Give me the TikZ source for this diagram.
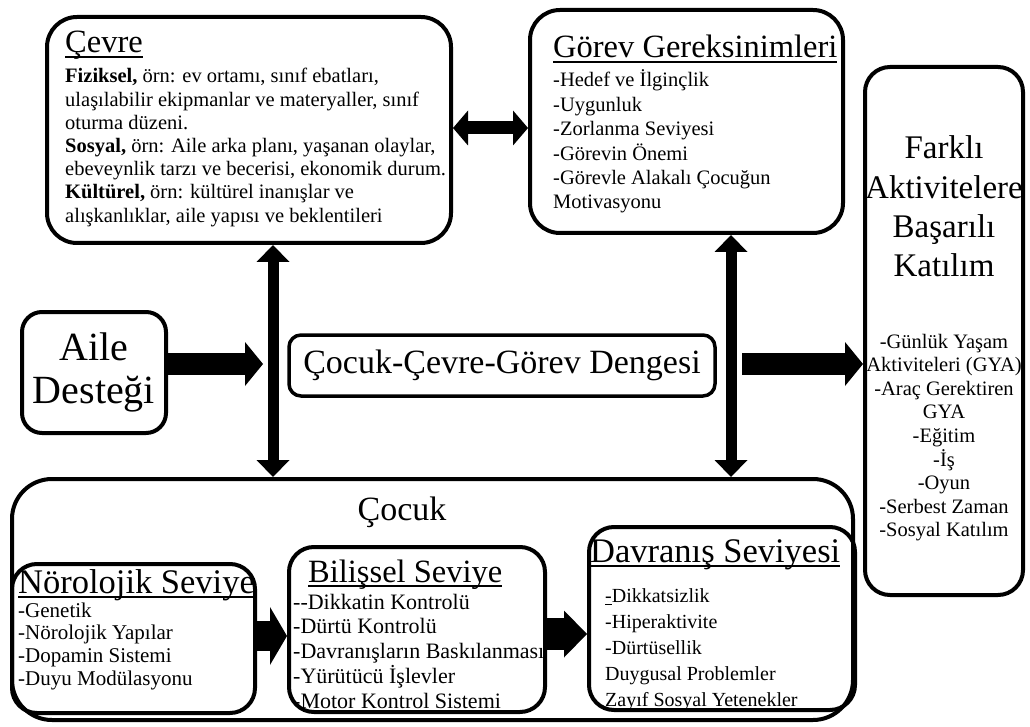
\documentclass[tikz,border=0pt]{standalone}
\usepackage{fontspec}
\setmainfont{Liberation Serif}
\usetikzlibrary{arrows.meta}
\newcommand\myul[1]{\leavevmode\setbox0\hbox{#1}\rlap{\rule[-0.15em]{\wd0}{0.055em}}\box0}
\newcommand\tblock[4]{\parbox[t]{#1}{\fontsize{#2}{#3}\selectfont\raggedright #4}}
\newcommand\cblock[4]{\parbox[t]{#1}{\fontsize{#2}{#3}\selectfont\centering #4}}
\begin{document}
\begin{tikzpicture}[x=1pt,y=-1pt,
  bx/.style={draw, line width=4pt, rounded corners=#1, inner sep=0pt},
  bx/.default=25pt,
  txt/.style={anchor=base west, inner sep=0pt},
  ctxt/.style={anchor=base, inner sep=0pt},
  harr/.style={line width=13pt, {Triangle[length=15pt,width=35pt,line width=0pt]}-{Triangle[length=15pt,width=35pt,line width=0pt]}},
  varr/.style={line width=11pt, {Triangle[length=17pt,width=33pt,line width=0pt]}-{Triangle[length=17pt,width=33pt,line width=0pt]}},
  farr/.style={line width=22pt, -{Triangle[length=18pt,width=44pt,line width=0pt]}},
  barrA/.style={line width=30pt, -{Triangle[length=17pt,width=58pt,line width=0pt]}},
  barrB/.style={line width=32pt, -{Triangle[length=23pt,width=47pt,line width=0pt]}}
]
\useasboundingbox (0,0) rectangle (1030,727);

% boxes
\node[bx=30pt, minimum width=404pt, minimum height=226pt] (cevre) at (249,130) {};
\node[bx=30pt, minimum width=313pt, minimum height=223pt] (gorev) at (686.5,121.5) {};
\node[bx=25pt, minimum width=158pt, minimum height=528pt] (farkli) at (944,331) {};
\node[bx=20pt, minimum width=144pt, minimum height=121pt, align=center,
      font=\fontsize{40}{43}\selectfont] (aile) at (94,372.5) {Aile\\Desteği};
\node[bx=12pt, line width=3.5pt, minimum width=426pt, minimum height=61pt,
      font=\fontsize{34}{38}\selectfont] (denge) at (502,365.5) {Çocuk-Çevre-Görev Dengesi};
\node[bx=40pt, minimum width=841pt, minimum height=241pt] (cocuk) at (432.5,599.5) {};
\node[bx=25pt, minimum width=243pt, minimum height=149pt] (noro) at (133.5,638.5) {};
\node[bx=25pt, minimum width=256pt, minimum height=165pt] (bilis) at (417,629.5) {};
\node[bx=25pt, minimum width=266pt, minimum height=183pt] (davr) at (722,618.5) {};

% texts
\node[txt] (cevret) at (65,53) {\fontsize{32.5}{36}\selectfont\myul{Çevre}};
\node[txt] (cevreb) at (65,83) {\tblock{390pt}{20.5}{23.2}{%
\textbf{Fiziksel,} örn: ev ortamı, sınıf ebatları,\\
ulaşılabilir ekipmanlar ve materyaller, sınıf\\
oturma düzeni.\\
\textbf{Sosyal,} örn: Aile arka planı, yaşanan olaylar,\\
ebeveynlik tarzı ve becerisi, ekonomik durum.\\
\textbf{Kültürel,} örn: kültürel inanışlar ve\\
alışkanlıklar, aile yapısı ve beklentileri}};

\node[txt] (gorevt) at (553,58) {\fontsize{32.5}{36}\selectfont\myul{Görev Gereksinimleri}};
\node[txt] (gorevb) at (553,87) {\tblock{290pt}{20.5}{24.4}{%
-Hedef ve İlginçlik\\
-Uygunluk\\
-Zorlanma Seviyesi\\
-Görevin Önemi\\
-Görevle Alakalı Çocuğun\\
Motivasyonu}};

\node[ctxt] (farklit) at (944,159) {\cblock{160pt}{33}{39.3}{Farklı\\Aktivitelere\\Başarılı\\Katılım}};
\node[ctxt] (farklib) at (944,348) {\cblock{164pt}{20.5}{23.6}{%
-Günlük Yaşam\\
Aktiviteleri (GYA)\\
-Araç Gerektiren\\
GYA\\
-Eğitim\\
-İş\\
-Oyun\\
-Serbest Zaman\\
-Sosyal Katılım}};

\node[ctxt] (cocukt) at (402,520) {\fontsize{34}{38}\selectfont Çocuk};

\node[txt] (norot) at (18,593) {\fontsize{34.5}{38}\selectfont\myul{Nörolojik Seviye}};
\node[txt] (norob) at (18,617) {\tblock{235pt}{21}{22.7}{%
-Genetik\\
-Nörolojik Yapılar\\
-Dopamin Sistemi\\
-Duyu Modülasyonu}};

\node[txt] (bilist) at (308,582) {\fontsize{32.5}{36}\selectfont\myul{Bilişsel Seviye}};
\node[txt] (bilisb) at (293,609) {\tblock{260pt}{22}{24.75}{%
{-}{-}Dikkatin Kontrolü\\
-Dürtü Kontrolü\\
-Davranışların Baskılanması\\
-Yürütücü İşlevler\\
-Motor Kontrol Sistemi}};

\node[txt] (davrt) at (590,562) {\fontsize{34.5}{38}\selectfont\myul{Davranış Seviyesi}};
\node[txt] (davrb) at (605,602) {\tblock{250pt}{20}{26}{%
\myul{-}Dikkatsizlik\\
-Hiperaktivite\\
-Dürtüsellik\\
Duygusal Problemler\\
Zayıf Sosyal Yetenekler}};

% connectors
\coordinate (hy) at (0,128);
\draw[harr] (cevre.east |- hy) -- (gorev.west |- hy);
\coordinate (vl) at (273,0);
\coordinate (vr) at (731,0);
\draw[varr] (cevre.south -| vl) -- (cocuk.north -| vl);
\draw[varr] (gorev.south -| vr) -- (cocuk.north -| vr);
\coordinate (ae) at (263,364);
\draw[farr] (ae -| aile.east) -- (ae);
\coordinate (rs) at (742,364);
\draw[farr] (rs) -- (rs -| farkli.west);
\coordinate (b1) at (0,636);
\draw[barrA] (noro.east |- b1) -- (bilis.west |- b1);
\coordinate (b2) at (0,634);
\draw[barrB] (bilis.east |- b2) -- (davr.west |- b2);
\end{tikzpicture}
\end{document}
